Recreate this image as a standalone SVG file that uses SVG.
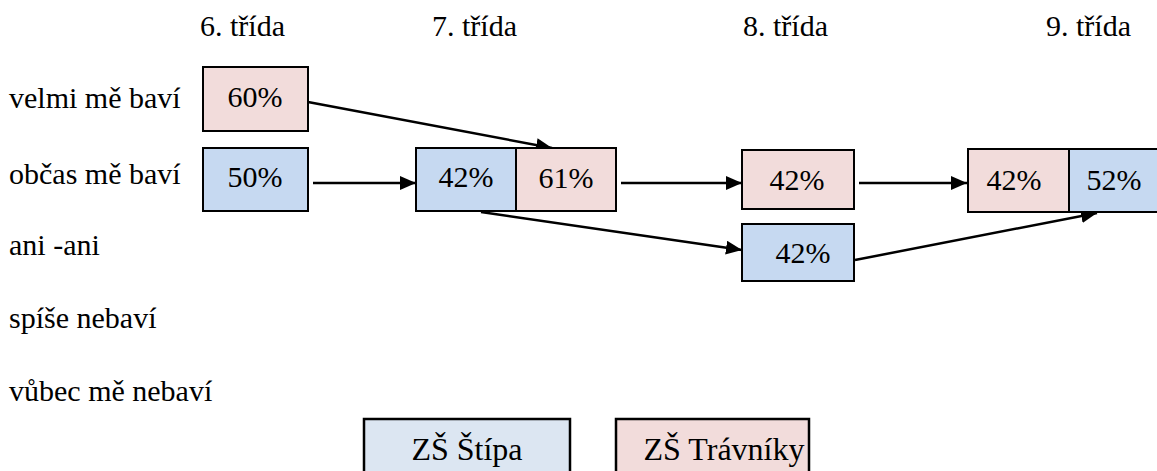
<svg xmlns="http://www.w3.org/2000/svg" width="1157" height="471" viewBox="0 0 1157 471">
<style>
.c { text-anchor: middle; }
.blue { fill: #c6d9f1; stroke: #000; stroke-width: 2; }
.pink { fill: #f2dcdb; stroke: #000; stroke-width: 2; }
.lblue { fill: #dce6f2; stroke: #000; stroke-width: 2.5; }
.lpink { fill: #f2dcdb; stroke: #000; stroke-width: 2.5; }
.arr { stroke: #000; stroke-width: 2.5; fill: none; marker-end: url(#ah); }
</style>
<defs>
<marker id="ah" markerUnits="userSpaceOnUse" markerWidth="18" markerHeight="14" refX="16" refY="7" orient="auto">
<path d="M0,0 L16,7 L0,14 Z" fill="#000"/>
</marker>
</defs>
<g id="headers" font-size="30">
<text x="200" y="36" font-family="Liberation Serif">6. třída</text>
<text x="432" y="36" font-family="Liberation Serif">7. třída</text>
<text x="743" y="36" font-family="Liberation Serif">8. třída</text>
<text x="1046" y="36" font-family="Liberation Serif">9. třída</text>
</g>
<g id="rows" font-size="30">
<text x="9" y="108" font-family="Liberation Serif">velmi mě baví</text>
<text x="9" y="184" font-family="Liberation Serif">občas mě baví</text>
<text x="9" y="255" font-family="Liberation Serif">ani -ani</text>
<text x="9" y="328" font-family="Liberation Serif">spíše nebaví</text>
<text x="9" y="401" font-family="Liberation Serif">vůbec mě nebaví</text>
</g>
<g id="connectors">
<line class="arr" x1="308" y1="102" x2="552" y2="148"/>
<line class="arr" x1="313" y1="183" x2="416" y2="183"/>
<line class="arr" x1="621" y1="183" x2="742" y2="183"/>
<line class="arr" x1="859" y1="183" x2="967" y2="183"/>
<line class="arr" x1="481" y1="212" x2="742" y2="250"/>
<line class="arr" x1="855" y1="260" x2="1097" y2="213"/>
</g>
<g id="n6a" font-size="30">
<rect class="pink" x="203" y="67" width="105" height="64"/>
<text class="c" x="255" y="107" font-family="Liberation Serif">60%</text>
</g>
<g id="n6b" font-size="30">
<rect class="blue" x="203" y="148" width="105" height="63"/>
<text class="c" x="255" y="187" font-family="Liberation Serif">50%</text>
</g>
<g id="n7" font-size="30">
<rect class="blue" x="416" y="148" width="100" height="63"/>
<rect class="pink" x="516" y="148" width="100" height="63"/>
<text class="c" x="466" y="187" font-family="Liberation Serif">42%</text>
<text class="c" x="566" y="188" font-family="Liberation Serif">61%</text>
</g>
<g id="n8a" font-size="30">
<rect class="pink" x="742" y="150" width="112" height="59"/>
<text class="c" x="797" y="190" font-family="Liberation Serif">42%</text>
</g>
<g id="n8b" font-size="30">
<rect class="blue" x="742" y="224" width="112" height="57"/>
<text class="c" x="803" y="263" font-family="Liberation Serif">42%</text>
</g>
<g id="n9" font-size="30">
<rect class="pink" x="968" y="149" width="101" height="63"/>
<rect class="blue" x="1069" y="149" width="100" height="63"/>
<text class="c" x="1014" y="190" font-family="Liberation Serif">42%</text>
<text class="c" x="1114" y="190" font-family="Liberation Serif">52%</text>
</g>
<g id="legend-stipa" font-size="32">
<rect class="lblue" x="364" y="419" width="206" height="70"/>
<text class="c" x="467" y="460" font-family="Liberation Serif">ZŠ Štípa</text>
</g>
<g id="legend-travniky" font-size="32">
<rect class="lpink" x="616" y="419" width="193" height="70"/>
<text class="c" x="724" y="460" font-family="Liberation Serif">ZŠ Trávníky</text>
</g>
</svg>
